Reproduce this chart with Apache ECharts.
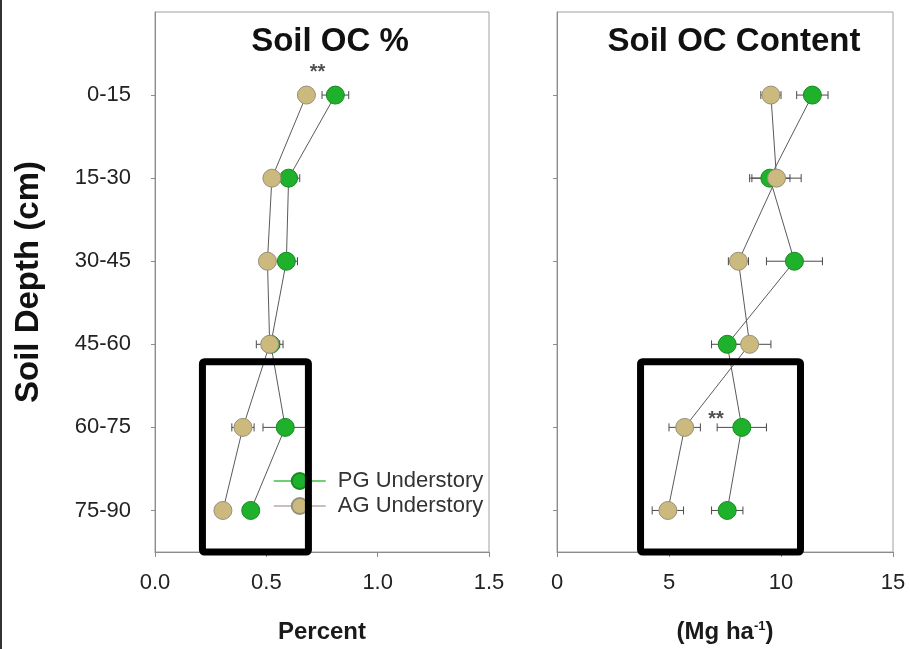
<!DOCTYPE html>
<html>
<head>
<meta charset="utf-8">
<script src="https://cdn.jsdelivr.net/npm/echarts@6/dist/echarts.min.js"></script>
<style>html,body{margin:0;padding:0;background:#fff}#c{width:910px;height:649px}</style>
</head>
<body>
<div id="c"></div>
<script>
// ---- data ----
const depths = ['0-15', '15-30', '30-45', '45-60', '60-75', '75-90'];
const pctTicks = [0, 0.5, 1.0, 1.5];
const contentTicks = [0, 5, 10, 15];
const pctPG = [0.81, 0.60, 0.59, 0.52, 0.585, 0.43];
const pctPGerr = [0.06, 0.05, 0.05, 0.04, 0.10, 0.03];
const pctAG = [0.68, 0.525, 0.505, 0.515, 0.395, 0.305];
const pctAGerr = [0.03, 0.03, 0.03, 0.06, 0.05, 0.03];
const contPG = [11.4, 9.5, 10.6, 7.6, 8.25, 7.6];
const contPGerr = [0.7, 0.9, 1.25, 0.7, 1.1, 0.7];
const contAG = [9.55, 9.8, 8.1, 8.6, 5.7, 4.95];
const contAGerr = [0.45, 1.1, 0.45, 0.95, 0.7, 0.7];
const sigPct = [[0.73, -0.27]];
const sigCont = [[7.1, 3.9]];
const boxPct = [[0.213, 3.21], [0.689, 5.5]];
const boxCont = [[3.73, 3.21], [10.87, 5.5]];

const FONT = 'Liberation Sans, Arial, sans-serif';
const PG = {fill: '#1fb02c', border: '#178a22', legendLine: '#3fbf48'};
const AG = {fill: '#cbb97e', border: '#97907a', legendLine: '#b9a8a8'};

function pts(vals) { return vals.map((v, i) => [v, i]); }
function errs(vals, e) { return vals.map((v, i) => [v, i, e[i]]); }

function errSeries(vals, e, gi, name) {
  return {
    type: 'custom', name: name + ' err', xAxisIndex: gi, yAxisIndex: gi, z: 2,
    data: errs(vals, e), silent: true,
    renderItem: function (params, api) {
      const x = api.value(0), y = api.value(1), d = api.value(2);
      const a = api.coord([x - d, y]), b = api.coord([x + d, y]);
      const h = 4;
      const st = {stroke: '#4a4a4a', lineWidth: 1};
      return {type: 'group', children: [
        {type: 'line', shape: {x1: a[0], y1: a[1], x2: b[0], y2: b[1]}, style: st},
        {type: 'line', shape: {x1: a[0], y1: a[1] - h, x2: a[0], y2: a[1] + h}, style: st},
        {type: 'line', shape: {x1: b[0], y1: b[1] - h, x2: b[0], y2: b[1] + h}, style: st}
      ]};
    }
  };
}
function lineSeries(name, vals, gi, c) {
  return {
    type: 'line', name: name, xAxisIndex: gi, yAxisIndex: gi, z: 3,
    data: pts(vals), symbol: 'circle', symbolSize: 18,
    lineStyle: {color: '#5a5a5a', width: 1},
    itemStyle: {color: c.fill, borderColor: c.border, borderWidth: 1},
    emphasis: {disabled: true}, animation: false
  };
}
function sigSeries(d, gi) {
  return {
    type: 'scatter', xAxisIndex: gi, yAxisIndex: gi, z: 4, symbolSize: 0, data: d, silent: true,
    label: {show: true, formatter: '**', position: 'inside', color: '#222', fontSize: 20, fontWeight: 'bold', fontFamily: FONT}
  };
}

const yAxisBase = {
  type: 'value', inverse: true, min: -1, max: 5.5, interval: 1,
  splitLine: {show: false},
  axisLine: {show: true, lineStyle: {color: '#8c8c8c', width: 1}},
  axisTick: {show: true, length: 4, customValues: [0, 1, 2, 3, 4, 5], lineStyle: {color: '#8c8c8c'}},
};
const xAxisBase = {
  type: 'value', splitLine: {show: false},
  axisLine: {show: true, onZero: false, lineStyle: {color: '#8c8c8c', width: 1}},
  axisTick: {show: true, length: 5, lineStyle: {color: '#8c8c8c'}},
  nameLocation: 'middle', nameGap: 68,
  nameTextStyle: {fontSize: 24, fontWeight: 'bold', color: '#1a1a1a', fontFamily: FONT}
};

const chart = echarts.init(document.getElementById('c'), null, {renderer: 'canvas'});
const option = {
  backgroundColor: '#ffffff',
  animation: false,
  textStyle: {fontFamily: FONT},
  grid: [
    {left: 155, right: 421, top: 12, bottom: 97, show: true, borderColor: '#a0a0a0', borderWidth: 1},
    {left: 557, right: 17, top: 12, bottom: 97, show: true, borderColor: '#a0a0a0', borderWidth: 1}
  ],
  title: [
    {text: 'Soil OC %', left: 325, top: 20, textAlign: 'center',
     textStyle: {fontSize: 33, fontWeight: 'bold', color: '#111', fontFamily: FONT}},
    {text: 'Soil OC Content', left: 729, top: 20, textAlign: 'center',
     textStyle: {fontSize: 33, fontWeight: 'bold', color: '#111', fontFamily: FONT}}
  ],
  xAxis: [
    Object.assign({}, xAxisBase, {
      gridIndex: 0, min: pctTicks[0], max: pctTicks[pctTicks.length - 1], interval: pctTicks[1] - pctTicks[0],
      name: 'Percent',
      axisLabel: {margin: 20, fontSize: 22, color: '#222', fontFamily: FONT, formatter: v => v.toFixed(1)}
    }),
    Object.assign({}, xAxisBase, {
      gridIndex: 1, min: contentTicks[0], max: contentTicks[contentTicks.length - 1], interval: contentTicks[1] - contentTicks[0],
      name: '(Mg ha{sup|-1})',
      nameTextStyle: {fontSize: 24, fontWeight: 'bold', color: '#1a1a1a', fontFamily: FONT,
        rich: {sup: {fontSize: 13, fontWeight: 'bold', verticalAlign: 'top', color: '#1a1a1a', fontFamily: FONT, padding: [0, 0, 10, 0]}}},
      axisLabel: {margin: 20, fontSize: 22, color: '#222', fontFamily: FONT}
    })
  ],
  yAxis: [
    Object.assign({}, yAxisBase, {
      gridIndex: 0, name: 'Soil Depth (cm)', nameLocation: 'middle', nameGap: 110,
      nameTextStyle: {fontSize: 33, fontWeight: 'bold', color: '#111', fontFamily: FONT},
      axisLabel: {show: true, margin: 24, fontSize: 22, color: '#222', fontFamily: FONT,
        customValues: [0, 1, 2, 3, 4, 5], formatter: v => depths[Math.round(v)] || ''}
    }),
    Object.assign({}, yAxisBase, {gridIndex: 1, axisLabel: {show: false}})
  ],
  legend: {
    orient: 'vertical', left: 268, top: 465, itemWidth: 52, itemHeight: 20, itemGap: 3,
    textStyle: {fontSize: 22, color: '#333', fontFamily: FONT, padding: [0, 0, 0, 7]},
    data: [
      {name: 'PG Understory', lineStyle: {color: PG.legendLine, width: 1.5}},
      {name: 'AG Understory', lineStyle: {color: AG.legendLine, width: 1.5}}
    ],
    selectedMode: false
  },
  series: [
    errSeries(pctPG, pctPGerr, 0, 'PG Understory'),
    errSeries(pctAG, pctAGerr, 0, 'AG Understory'),
    lineSeries('PG Understory', pctPG, 0, PG),
    lineSeries('AG Understory', pctAG, 0, AG),
    errSeries(contPG, contPGerr, 1, 'PG Understory'),
    errSeries(contAG, contAGerr, 1, 'AG Understory'),
    lineSeries('PG Understory', contPG, 1, PG),
    lineSeries('AG Understory', contAG, 1, AG),
    sigSeries(sigPct, 0),
    sigSeries(sigCont, 1)
  ]
};
chart.setOption(option);

function boxRect(b, gi) {
  const p1 = chart.convertToPixel({gridIndex: gi}, b[0]);
  const p2 = chart.convertToPixel({gridIndex: gi}, b[1]);
  return {
    type: 'rect', z: 100, silent: true,
    shape: {x: p1[0], y: p1[1], width: p2[0] - p1[0], height: p2[1] - p1[1], r: 2},
    style: {fill: 'none', stroke: '#000', lineWidth: 7}
  };
}
chart.setOption({
  graphic: [
    {type: 'rect', z: 100, silent: true, shape: {x: 0, y: 0, width: 2, height: 649}, style: {fill: '#333'}},
    boxRect(boxPct, 0),
    boxRect(boxCont, 1)
  ]
});
</script>
</body>
</html>
